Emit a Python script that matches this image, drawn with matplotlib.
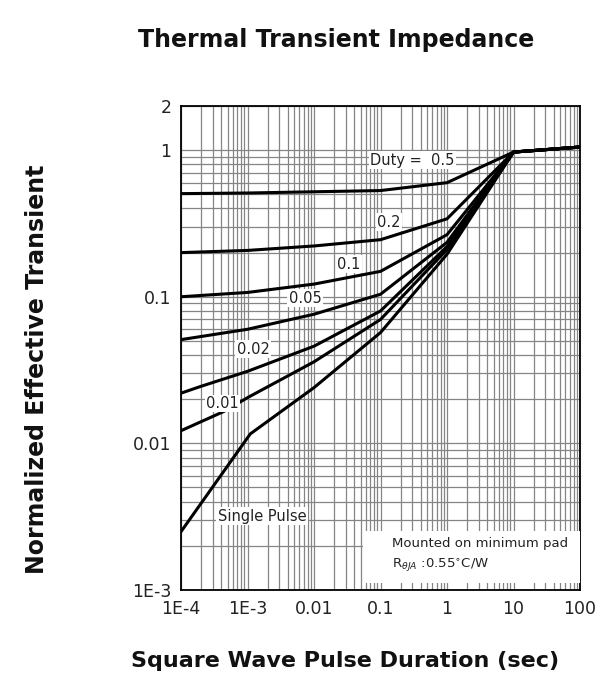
import numpy as np
import matplotlib
matplotlib.use("Agg")
import matplotlib.pyplot as plt
from matplotlib.patches import Rectangle

plt.rcParams['font.family'] = ['DejaVu Sans']

# pulse duration (sec) and normalized transient impedance
x_common = [1e-4, 1e-3, 1e-2, 1e-1, 1, 10, 100]
z_duty_05 = [0.505, 0.51, 0.52, 0.53, 0.60, 0.97, 1.05]
z_duty_02 = [0.20, 0.207, 0.222, 0.245, 0.34, 0.97, 1.05]
z_duty_01 = [0.100, 0.107, 0.122, 0.149, 0.265, 0.97, 1.05]
z_duty_005 = [0.051, 0.060, 0.076, 0.104, 0.235, 0.97, 1.05]

x_duty_002 = [1e-4, 2e-4, 1e-3, 1e-2, 1e-1, 1, 10, 100]
z_duty_002 = [0.022, 0.0245, 0.031, 0.046, 0.080, 0.22, 0.97, 1.05]

x_duty_001 = [1e-4, 4.4e-4, 1e-3, 1e-2, 1e-1, 1, 10, 100]
z_duty_001 = [0.0122, 0.0165, 0.0205, 0.036, 0.070, 0.21, 0.97, 1.05]

x_single = [1e-4, 1.1e-3, 1e-2, 1e-1, 1, 10, 100]
z_single = [0.0025, 0.0116, 0.024, 0.057, 0.195, 0.97, 1.05]

x_ticks = [1e-4, 1e-3, 1e-2, 1e-1, 1, 10, 100]
x_ticklabels = ['1E-4', '1E-3', '0.01', '0.1', '1', '10', '100']
y_ticks = [1e-3, 1e-2, 1e-1, 1, 2]
y_ticklabels = ['1E-3', '0.01', '0.1', '1', '2']

fig = plt.figure(figsize=(6.04, 6.83), dpi=100)
ax = fig.add_axes([0.2997, 0.1362, 0.6606, 0.7086])

ax.set_xscale('log')
ax.set_yscale('log')
ax.set_xlim(1e-4, 100)
ax.set_ylim(1e-3, 2)

ax.grid(True, which='both', color='#858585', linewidth=0.9)
ax.set_axisbelow(True)

curves = [
    (x_common, z_duty_05),
    (x_common, z_duty_02),
    (x_common, z_duty_01),
    (x_common, z_duty_005),
    (x_duty_002, z_duty_002),
    (x_duty_001, z_duty_001),
    (x_single, z_single),
]
for xs, zs in curves:
    ax.plot(xs, zs, color='black', linewidth=2.2, zorder=3)

# curve labels
box = dict(facecolor='white', edgecolor='none', pad=1.0)
lab_kw = dict(fontsize=10.5, color='#222222', ha='center', va='center', bbox=box, zorder=4)
ax.text(0.30, 0.855, 'Duty =  0.5', **lab_kw)
ax.text(0.134, 0.323, '0.2', **lab_kw)
ax.text(0.0336, 0.167, '0.1', **lab_kw)
ax.text(0.0073, 0.098, '0.05', **lab_kw)
ax.text(0.00121, 0.0438, '0.02', **lab_kw)
ax.text(0.00042, 0.0187, '0.01', **lab_kw)
ax.text(0.00166, 0.00318, 'Single Pulse', **lab_kw)

# mounting note box
ax.add_patch(Rectangle((0.456, 0.0145), 0.544, 0.108, transform=ax.transAxes,
                       facecolor='white', edgecolor='none', zorder=4))
ax.text(0.530, 0.097, 'Mounted on minimum pad', transform=ax.transAxes,
        fontsize=9.5, color='#222222', va='center', ha='left', zorder=5)
ax.text(0.530, 0.050, r'R$_{\theta JA}$ :0.55$^{\circ}$C/W', transform=ax.transAxes,
        fontsize=9.5, color='#222222', va='center', ha='left', zorder=5)

ax.set_xticks(x_ticks)
ax.set_xticklabels(x_ticklabels)
ax.set_yticks(y_ticks)
ax.set_yticklabels(y_ticklabels)
ax.minorticks_on()
ax.tick_params(which='both', length=0, labelsize=12.5, colors='#222222', pad=7)
ax.tick_params(axis='y', which='minor', labelleft=False)
ax.tick_params(axis='x', which='minor', labelbottom=False)

for s in ax.spines.values():
    s.set_linewidth(1.3)
    s.set_color('black')

fig.text(0.556, 0.941, 'Thermal Transient Impedance', fontsize=17, fontweight='bold',
         ha='center', va='center', color='#111111')
fig.text(0.061, 0.46, 'Normalized Effective Transient', fontsize=17, fontweight='bold',
         ha='center', va='center', rotation=90, color='#111111')
fig.text(0.571, 0.032, 'Square Wave Pulse Duration (sec)', fontsize=16, fontweight='bold',
         ha='center', va='center', color='#111111')

fig.savefig('out.png', dpi=100)
